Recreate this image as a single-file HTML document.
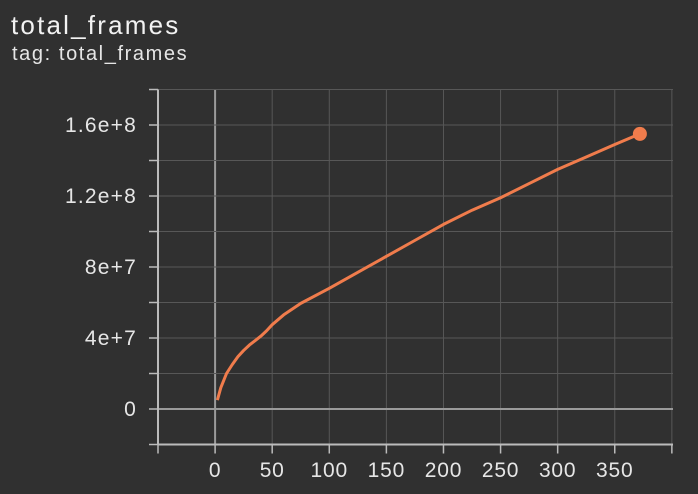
<!DOCTYPE html>
<html><head><meta charset="utf-8"><style>
html,body{margin:0;padding:0;background:#303030;width:698px;height:494px;overflow:hidden;font-family:"Liberation Sans",sans-serif;color:#eee}
#title{position:absolute;left:11px;top:10px;font-size:26px;letter-spacing:2.2px;color:#f2f2f2}
#sub{position:absolute;left:12px;top:43px;font-size:20px;letter-spacing:1.6px;color:#e6e6e6}
svg{position:absolute;left:0;top:0}
</style></head><body>
<div id="title">total_frames</div>
<div id="sub">tag: total_frames</div>
<svg id="c" width="698" height="494"></svg>
<script>
const xTicks=[0,50,100,150,200,250,300,350];
const yTicks=[0,4e7,8e7,1.2e8,1.6e8];
const yTickLabels=["0","4e+7","8e+7","1.2e+8","1.6e+8"];
const steps=[2,5,10,15,20,25,30,35,40,45,50,60,75,100,125,150,175,200,225,250,275,300,325,350,372];
const values=[5e6,1.2e7,2e7,2.5e7,2.95e7,3.3e7,3.6e7,3.85e7,4.1e7,4.4e7,4.75e7,5.3e7,5.95e7,6.8e7,7.7e7,8.6e7,9.5e7,1.04e8,1.12e8,1.19e8,1.27e8,1.35e8,1.42e8,1.49e8,1.55e8];
const X0=158,X1=673,Y0=444.5,Y1=89.5;
const xmin=-50,xmax=401,ymin=-2e7,ymax=1.8e8;
const xs=v=>X0+(v-xmin)/(xmax-xmin)*(X1-X0);
const ys=v=>Y0-(v-ymin)/(ymax-ymin)*(Y0-Y1);
const svg=document.getElementById('c');
function mk(t,a){const e=document.createElementNS('http://www.w3.org/2000/svg',t);for(const k in a)e.setAttribute(k,a[k]);svg.appendChild(e);return e;}
for(let v=-50;v<=400;v+=50){const l=mk('line',{x1:xs(v),x2:xs(v),y1:Y1,y2:Y0,stroke:v==0?'#9a9a9a':'#575757','stroke-width':v==0?2:1});


const t=mk('line',{x1:xs(v),x2:xs(v),y1:Y0,y2:Y0+9,stroke:'#bbb','stroke-width':1.5});

}
for(let v=-2e7;v<=1.8e8;v+=2e7){const l=mk('line',{x1:X0,x2:X1,y1:ys(v),y2:ys(v),stroke:Math.abs(v)<1?'#9a9a9a':'#575757','stroke-width':Math.abs(v)<1?2:1});


const t=mk('line',{x1:X0-9,x2:X0,y1:ys(v),y2:ys(v),stroke:'#bbb','stroke-width':1.5});

}
const ax=mk('line',{x1:X0,x2:X0,y1:Y1,y2:Y0,stroke:'#bbb','stroke-width':2});


const bx=mk('line',{x1:X0,x2:X1,y1:Y0,y2:Y0,stroke:'#bbb','stroke-width':2});


xTicks.forEach(v=>{const t=mk('text',{x:xs(v),y:477,'text-anchor':'middle',fill:'#e6e6e6','font-size':21,'letter-spacing':0.8,'font-family':'Liberation Sans, sans-serif'});t.textContent=String(v);

});
yTicks.forEach((v,i)=>{const t=mk('text',{x:137,y:ys(v)+7,'text-anchor':'end',fill:'#e6e6e6','font-size':21,'letter-spacing':1.2,'font-family':'Liberation Sans, sans-serif'});t.textContent=yTickLabels[i];

});
const p=mk('path',{d:steps.map((s,i)=>(i?'L':'M')+xs(s)+','+ys(values[i])).join(''),fill:'none',stroke:'#f07c4c','stroke-width':3,'stroke-linejoin':'round'});


const n=steps.length-1;
const d=mk('circle',{cx:xs(steps[n]),cy:ys(values[n]),r:7,fill:'#f07c4c'});


</script>
</body></html>
